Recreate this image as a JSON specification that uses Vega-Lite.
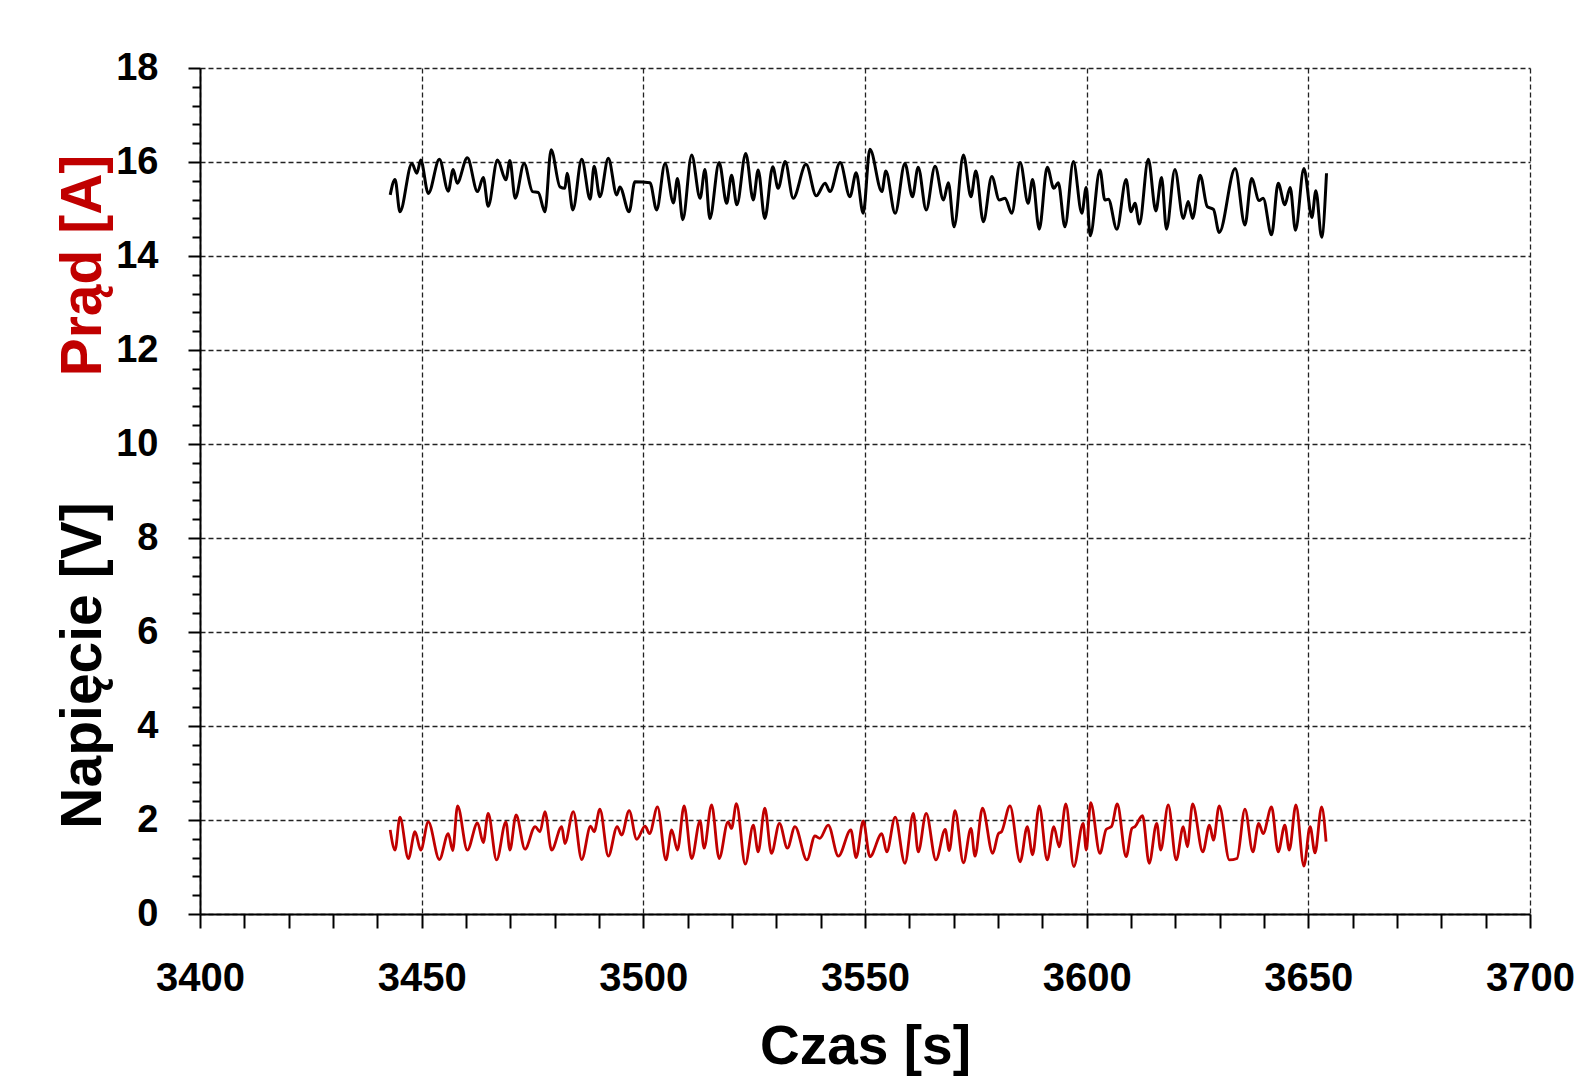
{
  "$schema": "https://vega.github.io/schema/vega-lite/v6.json",
  "width": 1330,
  "height": 846,
  "autosize": {"type": "none"},
  "padding": {"left": 200, "top": 68, "right": 57, "bottom": 162},
  "background": "white",
  "config": {
    "view": {"stroke": null},
    "axis": {"labelFont": "Liberation Sans", "titleFont": "Liberation Sans", "labelFontWeight": "bold", "titleFontWeight": "bold", "labelColor": "black", "titleColor": "black"}
  },
  "datasets": {
    "napiecie": [
      {"t":3442.9,"v":15.30},{"t":3444.0,"v":15.63},{"t":3445.1,"v":14.94},{"t":3447.8,"v":15.97},{"t":3448.9,"v":15.76},{"t":3449.8,"v":16.04},{"t":3451.5,"v":15.33},{"t":3454.0,"v":16.06},{"t":3456.0,"v":15.38},{"t":3457.1,"v":15.84},{"t":3458.0,"v":15.55},{"t":3460.3,"v":16.09},{"t":3462.6,"v":15.37},{"t":3463.9,"v":15.67},{"t":3465.0,"v":15.06},{"t":3467.1,"v":16.04},{"t":3469.0,"v":15.62},{"t":3469.9,"v":16.03},{"t":3471.1,"v":15.23},{"t":3473.1,"v":15.97},{"t":3475.0,"v":15.37},{"t":3476.3,"v":15.35},{"t":3477.8,"v":14.94},{"t":3479.2,"v":16.26},{"t":3481.2,"v":15.47},{"t":3482.3,"v":15.44},{"t":3482.8,"v":15.76},{"t":3484.1,"v":14.98},{"t":3486.1,"v":16.06},{"t":3488.0,"v":15.21},{"t":3488.9,"v":15.91},{"t":3490.2,"v":15.26},{"t":3492.1,"v":16.08},{"t":3494.0,"v":15.30},{"t":3494.7,"v":15.47},{"t":3496.8,"v":14.94},{"t":3498.1,"v":15.58},{"t":3501.5,"v":15.56},{"t":3503.0,"v":14.98},{"t":3504.9,"v":15.97},{"t":3506.8,"v":15.13},{"t":3507.7,"v":15.65},{"t":3508.9,"v":14.77},{"t":3510.9,"v":16.15},{"t":3512.8,"v":15.23},{"t":3513.9,"v":15.84},{"t":3515.0,"v":14.80},{"t":3517.1,"v":15.99},{"t":3518.8,"v":15.12},{"t":3519.9,"v":15.72},{"t":3521.1,"v":15.09},{"t":3523.1,"v":16.18},{"t":3524.8,"v":15.19},{"t":3525.9,"v":15.83},{"t":3527.4,"v":14.80},{"t":3529.2,"v":15.90},{"t":3530.4,"v":15.44},{"t":3532.0,"v":16.01},{"t":3533.8,"v":15.23},{"t":3536.7,"v":15.95},{"t":3539.0,"v":15.28},{"t":3541.0,"v":15.55},{"t":3542.1,"v":15.37},{"t":3544.4,"v":15.99},{"t":3546.6,"v":15.26},{"t":3548.0,"v":15.77},{"t":3549.6,"v":14.91},{"t":3551.1,"v":16.27},{"t":3553.8,"v":15.37},{"t":3554.7,"v":15.81},{"t":3556.8,"v":14.91},{"t":3559.0,"v":15.97},{"t":3560.7,"v":15.26},{"t":3562.0,"v":15.89},{"t":3563.8,"v":14.98},{"t":3565.8,"v":15.91},{"t":3567.7,"v":15.19},{"t":3568.8,"v":15.56},{"t":3570.1,"v":14.62},{"t":3572.2,"v":16.15},{"t":3573.9,"v":15.26},{"t":3575.0,"v":15.81},{"t":3576.7,"v":14.73},{"t":3578.6,"v":15.69},{"t":3580.3,"v":15.19},{"t":3581.6,"v":15.23},{"t":3583.1,"v":14.91},{"t":3585.0,"v":15.99},{"t":3586.8,"v":15.12},{"t":3587.8,"v":15.63},{"t":3589.3,"v":14.57},{"t":3591.1,"v":15.89},{"t":3592.6,"v":15.44},{"t":3593.6,"v":15.56},{"t":3595.1,"v":14.62},{"t":3597.0,"v":16.01},{"t":3598.9,"v":14.91},{"t":3599.9,"v":15.46},{"t":3600.8,"v":14.43},{"t":3603.0,"v":15.83},{"t":3604.1,"v":15.19},{"t":3604.9,"v":15.21},{"t":3606.8,"v":14.57},{"t":3608.9,"v":15.63},{"t":3610.0,"v":14.94},{"t":3610.9,"v":15.12},{"t":3611.9,"v":14.68},{"t":3613.9,"v":16.06},{"t":3615.6,"v":14.96},{"t":3616.9,"v":15.67},{"t":3618.0,"v":14.57},{"t":3619.9,"v":15.84},{"t":3621.8,"v":14.80},{"t":3622.9,"v":15.16},{"t":3623.9,"v":14.80},{"t":3625.6,"v":15.72},{"t":3627.2,"v":15.05},{"t":3628.6,"v":14.99},{"t":3629.9,"v":14.50},{"t":3633.5,"v":15.86},{"t":3635.7,"v":14.66},{"t":3637.2,"v":15.65},{"t":3638.9,"v":15.18},{"t":3639.8,"v":15.23},{"t":3641.7,"v":14.45},{"t":3643.2,"v":15.55},{"t":3644.7,"v":15.09},{"t":3645.9,"v":15.46},{"t":3647.1,"v":14.55},{"t":3649.0,"v":15.86},{"t":3650.8,"v":14.82},{"t":3651.7,"v":15.39},{"t":3653.0,"v":14.40},{"t":3654.1,"v":15.76}
    ],
    "prad": [
      {"t":3442.9,"v":1.79},{"t":3444.0,"v":1.36},{"t":3445.1,"v":2.06},{"t":3447.0,"v":1.18},{"t":3448.5,"v":1.75},{"t":3449.8,"v":1.36},{"t":3451.5,"v":1.96},{"t":3454.0,"v":1.16},{"t":3456.0,"v":1.71},{"t":3457.0,"v":1.35},{"t":3458.1,"v":2.30},{"t":3460.3,"v":1.36},{"t":3462.6,"v":1.94},{"t":3463.9,"v":1.52},{"t":3465.0,"v":2.14},{"t":3466.9,"v":1.15},{"t":3469.0,"v":1.96},{"t":3469.9,"v":1.36},{"t":3471.3,"v":2.11},{"t":3473.3,"v":1.38},{"t":3475.6,"v":1.86},{"t":3476.7,"v":1.75},{"t":3477.8,"v":2.18},{"t":3479.3,"v":1.36},{"t":3481.6,"v":1.86},{"t":3482.3,"v":1.50},{"t":3484.2,"v":2.18},{"t":3486.1,"v":1.16},{"t":3488.1,"v":1.87},{"t":3488.9,"v":1.75},{"t":3490.2,"v":2.23},{"t":3492.1,"v":1.23},{"t":3494.1,"v":1.86},{"t":3495.1,"v":1.68},{"t":3496.8,"v":2.20},{"t":3498.5,"v":1.59},{"t":3500.4,"v":1.87},{"t":3501.4,"v":1.71},{"t":3503.2,"v":2.28},{"t":3505.1,"v":1.15},{"t":3506.4,"v":1.79},{"t":3507.7,"v":1.36},{"t":3509.2,"v":2.30},{"t":3510.9,"v":1.18},{"t":3512.8,"v":1.98},{"t":3513.7,"v":1.40},{"t":3515.4,"v":2.32},{"t":3517.1,"v":1.18},{"t":3519.1,"v":1.96},{"t":3519.9,"v":1.82},{"t":3521.0,"v":2.35},{"t":3523.0,"v":1.06},{"t":3524.8,"v":1.89},{"t":3525.9,"v":1.32},{"t":3527.4,"v":2.25},{"t":3528.9,"v":1.29},{"t":3530.7,"v":1.93},{"t":3532.5,"v":1.40},{"t":3534.2,"v":1.86},{"t":3536.9,"v":1.15},{"t":3538.7,"v":1.66},{"t":3539.8,"v":1.61},{"t":3541.7,"v":1.89},{"t":3544.0,"v":1.23},{"t":3546.8,"v":1.79},{"t":3548.0,"v":1.20},{"t":3549.6,"v":1.98},{"t":3551.1,"v":1.22},{"t":3553.8,"v":1.71},{"t":3554.9,"v":1.32},{"t":3556.8,"v":2.06},{"t":3559.0,"v":1.08},{"t":3560.9,"v":2.14},{"t":3562.0,"v":1.32},{"t":3563.8,"v":2.14},{"t":3566.0,"v":1.15},{"t":3568.1,"v":1.80},{"t":3569.0,"v":1.35},{"t":3570.3,"v":2.20},{"t":3572.2,"v":1.09},{"t":3573.9,"v":1.82},{"t":3574.8,"v":1.23},{"t":3576.5,"v":2.25},{"t":3578.8,"v":1.29},{"t":3580.1,"v":1.71},{"t":3580.8,"v":1.75},{"t":3582.7,"v":2.30},{"t":3585.0,"v":1.11},{"t":3586.6,"v":1.86},{"t":3587.8,"v":1.26},{"t":3589.3,"v":2.30},{"t":3591.1,"v":1.15},{"t":3592.6,"v":1.86},{"t":3593.8,"v":1.43},{"t":3595.3,"v":2.34},{"t":3597.1,"v":1.01},{"t":3599.2,"v":1.93},{"t":3599.9,"v":1.36},{"t":3600.9,"v":2.37},{"t":3603.0,"v":1.29},{"t":3604.4,"v":1.80},{"t":3605.6,"v":1.86},{"t":3606.9,"v":2.34},{"t":3608.9,"v":1.22},{"t":3610.2,"v":1.82},{"t":3610.9,"v":1.86},{"t":3612.6,"v":2.09},{"t":3614.1,"v":1.08},{"t":3615.8,"v":1.93},{"t":3616.7,"v":1.36},{"t":3618.4,"v":2.32},{"t":3620.2,"v":1.15},{"t":3621.8,"v":1.86},{"t":3622.7,"v":1.43},{"t":3623.9,"v":2.34},{"t":3626.2,"v":1.32},{"t":3627.7,"v":1.89},{"t":3628.6,"v":1.57},{"t":3629.9,"v":2.30},{"t":3632.2,"v":1.15},{"t":3633.9,"v":1.18},{"t":3635.7,"v":2.23},{"t":3637.5,"v":1.32},{"t":3638.8,"v":1.93},{"t":3639.8,"v":1.71},{"t":3641.7,"v":2.28},{"t":3643.2,"v":1.32},{"t":3644.7,"v":1.89},{"t":3645.7,"v":1.36},{"t":3647.2,"v":2.32},{"t":3649.0,"v":1.02},{"t":3650.4,"v":1.86},{"t":3651.5,"v":1.30},{"t":3653.0,"v":2.28},{"t":3654.0,"v":1.54}
    ]
  },
  "layer": [
    {
      "data": {"name": "napiecie"},
      "mark": {"type": "line", "color": "black", "strokeWidth": 3, "interpolate": "monotone"},
      "encoding": {
        "x": {
          "field": "t", "type": "quantitative",
          "scale": {"domain": [3400, 3700], "nice": false, "zero": false},
          "axis": {
            "values": [3400,3410,3420,3430,3440,3450,3460,3470,3480,3490,3500,3510,3520,3530,3540,3550,3560,3570,3580,3590,3600,3610,3620,3630,3640,3650,3660,3670,3680,3690,3700],
            "format": "d",
            "labelExpr": "datum.value % 50 == 0 ? datum.label : ''",
            "labelFontSize": 40, "labelPadding": 30, "labelFlush": false, "labelOverlap": false,
            "domainColor": "black", "domainWidth": 2,
            "tickColor": "black", "tickWidth": 2, "tickSize": 14,
            "grid": true, "gridColor": "#222222", "gridWidth": 1.3, "gridDash": [5, 3],
            "gridOpacity": {"condition": {"test": "datum.value % 50 == 0", "value": 1}, "value": 0},
            "title": "Czas [s]", "titleFontSize": 55, "titleBaseline": "alphabetic", "titleY": 149
          }
        },
        "y": {
          "field": "v", "type": "quantitative",
          "scale": {"domain": [0, 18], "nice": false},
          "axis": {
            "values": [0,0.4,0.8,1.2,1.6,2,2.4,2.8,3.2,3.6,4,4.4,4.8,5.2,5.6,6,6.4,6.8,7.2,7.6,8,8.4,8.8,9.2,9.6,10,10.4,10.8,11.2,11.6,12,12.4,12.8,13.2,13.6,14,14.4,14.8,15.2,15.6,16,16.4,16.8,17.2,17.6,18],
            "labelExpr": "abs(datum.value - round(datum.value / 2) * 2) < 0.01 ? format(datum.value, 'd') : ''",
            "labelFontSize": 38, "labelPadding": 30, "labelFlush": false, "labelOverlap": false,
            "domainColor": "black", "domainWidth": 2,
            "tickColor": "black", "tickWidth": 2,
            "tickSize": {"condition": {"test": "abs(datum.value - round(datum.value / 2) * 2) < 0.01", "value": 12}, "value": 8},
            "grid": true, "gridColor": "#222222", "gridWidth": 1.3, "gridDash": [5, 3],
            "gridOpacity": {"condition": {"test": "abs(datum.value - round(datum.value / 2) * 2) < 0.01", "value": 1}, "value": 0},
            "title": "Napięcie [V]", "titleFontSize": 57, "titleColor": "black",
            "titleAngle": -90, "titleAlign": "center", "titleBaseline": "alphabetic", "titleX": -100, "titleY": 597
          }
        }
      }
    },
    {
      "data": {"name": "prad"},
      "mark": {"type": "line", "color": "#c00000", "strokeWidth": 2.8, "interpolate": "monotone"},
      "encoding": {
        "x": {"field": "t", "type": "quantitative"},
        "y": {
          "field": "v", "type": "quantitative",
          "axis": {
            "orient": "left", "labels": false, "ticks": false, "domain": false, "grid": false,
            "title": "Prąd [A]", "titleFontSize": 57, "titleColor": "#c00000",
            "titleAngle": -90, "titleAlign": "center", "titleBaseline": "alphabetic", "titleX": -100, "titleY": 197
          }
        }
      }
    }
  ],
  "resolve": {"axis": {"y": "independent"}}
}
